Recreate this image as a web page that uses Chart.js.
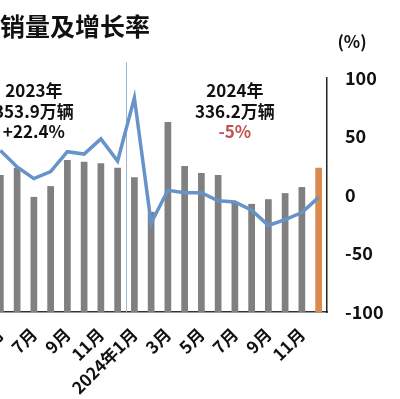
<!DOCTYPE html>
<html>
<head>
<meta charset="utf-8">
<script src="https://cdn.jsdelivr.net/npm/chart.js@4/dist/chart.umd.min.js"></script>
<style>
  body { margin: 0; background: #fff; width: 400px; height: 399px; overflow: hidden; position: relative; font-family: "Noto Sans CJK SC", sans-serif; }
  #titulo { position: absolute; left: 0; top: 7px; font-size: 25px; font-weight: bold; color: #111; letter-spacing: 0px; z-index: 2; }
  #caja { position: absolute; left: -8px; top: 0; width: 408px; height: 399px; }
</style>
</head>
<body>
<div id="titulo">销量及增长率</div>
<div id="caja"><canvas id="grafico" width="408" height="399"></canvas></div>
<script>
// Meses visibles (mayo 2023 - diciembre 2024)
const meses = ['5月', '6月', '7月', '8月', '9月', '10月', '11月', '12月',
  '2024年1月', '2月', '3月', '4月', '5月', '6月', '7月', '8月', '9月', '10月', '11月', '12月'];

// Ventas mensuales (万辆, estimadas)
const ventas = [29.3, 30.8, 24.6, 26.9, 32.5, 32.1, 31.8, 30.8,
  28.8, 21.4, 40.6, 31.2, 29.7, 29.3, 23.5, 23.1, 24.1, 25.4, 26.7, 30.8];

// Crecimiento interanual (%)
const crecimiento = [38, 24, 14, 20, 37, 35, 48, 29,
  83, -24, 4, 2, 2, -5, -6, -13, -26, -21, -15, -2];

const ticksPct = [-100, -50, 0, 50, 100];

const nota2023 = ['2023年', '353.9万辆', '+22.4%'];
const nota2024 = ['2024年', '336.2万辆', '-5%'];

const FUENTE = '"Noto Sans CJK SC", sans-serif';

// colores de barras: la última en naranja
const coloresBarras = ventas.map((v, i) => i === ventas.length - 1 ? '#D98B4F' : '#808080');

const notasPlugin = {
  id: 'notas',
  beforeDatasetsDraw(chart) {
    const { ctx, chartArea, scales } = chart;
    // línea separadora entre 2023 y 2024
    const sx = (scales.x.getPixelForValue(7) + scales.x.getPixelForValue(8)) / 2;
    ctx.save();
    ctx.strokeStyle = '#9FB6D3';
    ctx.lineWidth = 1;
    ctx.beginPath();
    ctx.moveTo(Math.round(sx) + 0.5, chartArea.top - 16);
    ctx.lineTo(Math.round(sx) + 0.5, chartArea.bottom);
    ctx.stroke();
    ctx.restore();
  },
  afterDatasetsDraw(chart) {
    const { ctx, chartArea, scales } = chart;
    ctx.save();
    ctx.textAlign = 'center';
    ctx.textBaseline = 'middle';
    ctx.font = 'bold 17px ' + FUENTE;
    const filas = [89, 71, 54];
    function escribir(nota, idx, rojo) {
      const x = scales.x.getPixelForValue(idx);
      nota.forEach((t, k) => {
        ctx.fillStyle = (rojo && k === 2) ? '#C0504D' : '#111';
        ctx.fillText(t, x, scales.y1.getPixelForValue(filas[k]));
      });
    }
    escribir(nota2023, 2, false);
    escribir(nota2024, 14, true);
    // unidad del eje derecho
    ctx.font = 'bold 17px ' + FUENTE;
    ctx.fillStyle = '#111';
    ctx.fillText('(%)', scales.y1.left + 25, chartArea.top - 36);
    ctx.restore();
  }
};

const ctx = document.getElementById('grafico').getContext('2d');
new Chart(ctx, {
  data: {
    labels: meses,
    datasets: [
      {
        type: 'line',
        label: '增长率',
        data: crecimiento,
        yAxisID: 'y1',
        borderColor: '#6693C8',
        borderWidth: 3.5,
        pointRadius: 0,
        tension: 0,
        order: 0
      },
      {
        type: 'bar',
        label: '销量',
        data: ventas,
        yAxisID: 'y',
        backgroundColor: coloresBarras,
        barPercentage: 0.4,
        categoryPercentage: 1,
        order: 1
      }
    ]
  },
  options: {
    responsive: false,
    animation: false,
    devicePixelRatio: 1,
    layout: { padding: { top: 78, left: 0, right: 0, bottom: 0 } },
    plugins: { legend: { display: false }, tooltip: { enabled: false } },
    scales: {
      x: {
        grid: { display: false, drawTicks: false },
        border: { display: true, color: '#333', width: 1.5 },
        ticks: {
          autoSkip: false,
          maxRotation: 45,
          minRotation: 45,
          padding: 12,
          color: '#111',
          font: { family: FUENTE, size: 17, weight: 'bold' },
          callback: function(val, i) { return i % 2 === 0 ? meses[i] : ''; }
        },
        afterFit: function(axis) {
          axis.height = 87;
          axis.paddingLeft = 0;
          axis.paddingRight = 0;
        }
      },
      y: {
        display: false,
        min: 0,
        max: 50
      },
      y1: {
        position: 'right',
        min: -100,
        max: 100,
        afterBuildTicks: function(axis) { axis.ticks = ticksPct.map(v => ({ value: v })); },
        grid: { display: false, drawTicks: false },
        border: { display: true, color: '#222', width: 1.5 },
        ticks: {
          padding: 18,
          color: '#111',
          font: { family: FUENTE, size: 18, weight: 'bold' }
        },
        afterFit: function(axis) { axis.width = 73; }
      }
    }
  },
  plugins: [notasPlugin]
});
</script>
</body>
</html>
